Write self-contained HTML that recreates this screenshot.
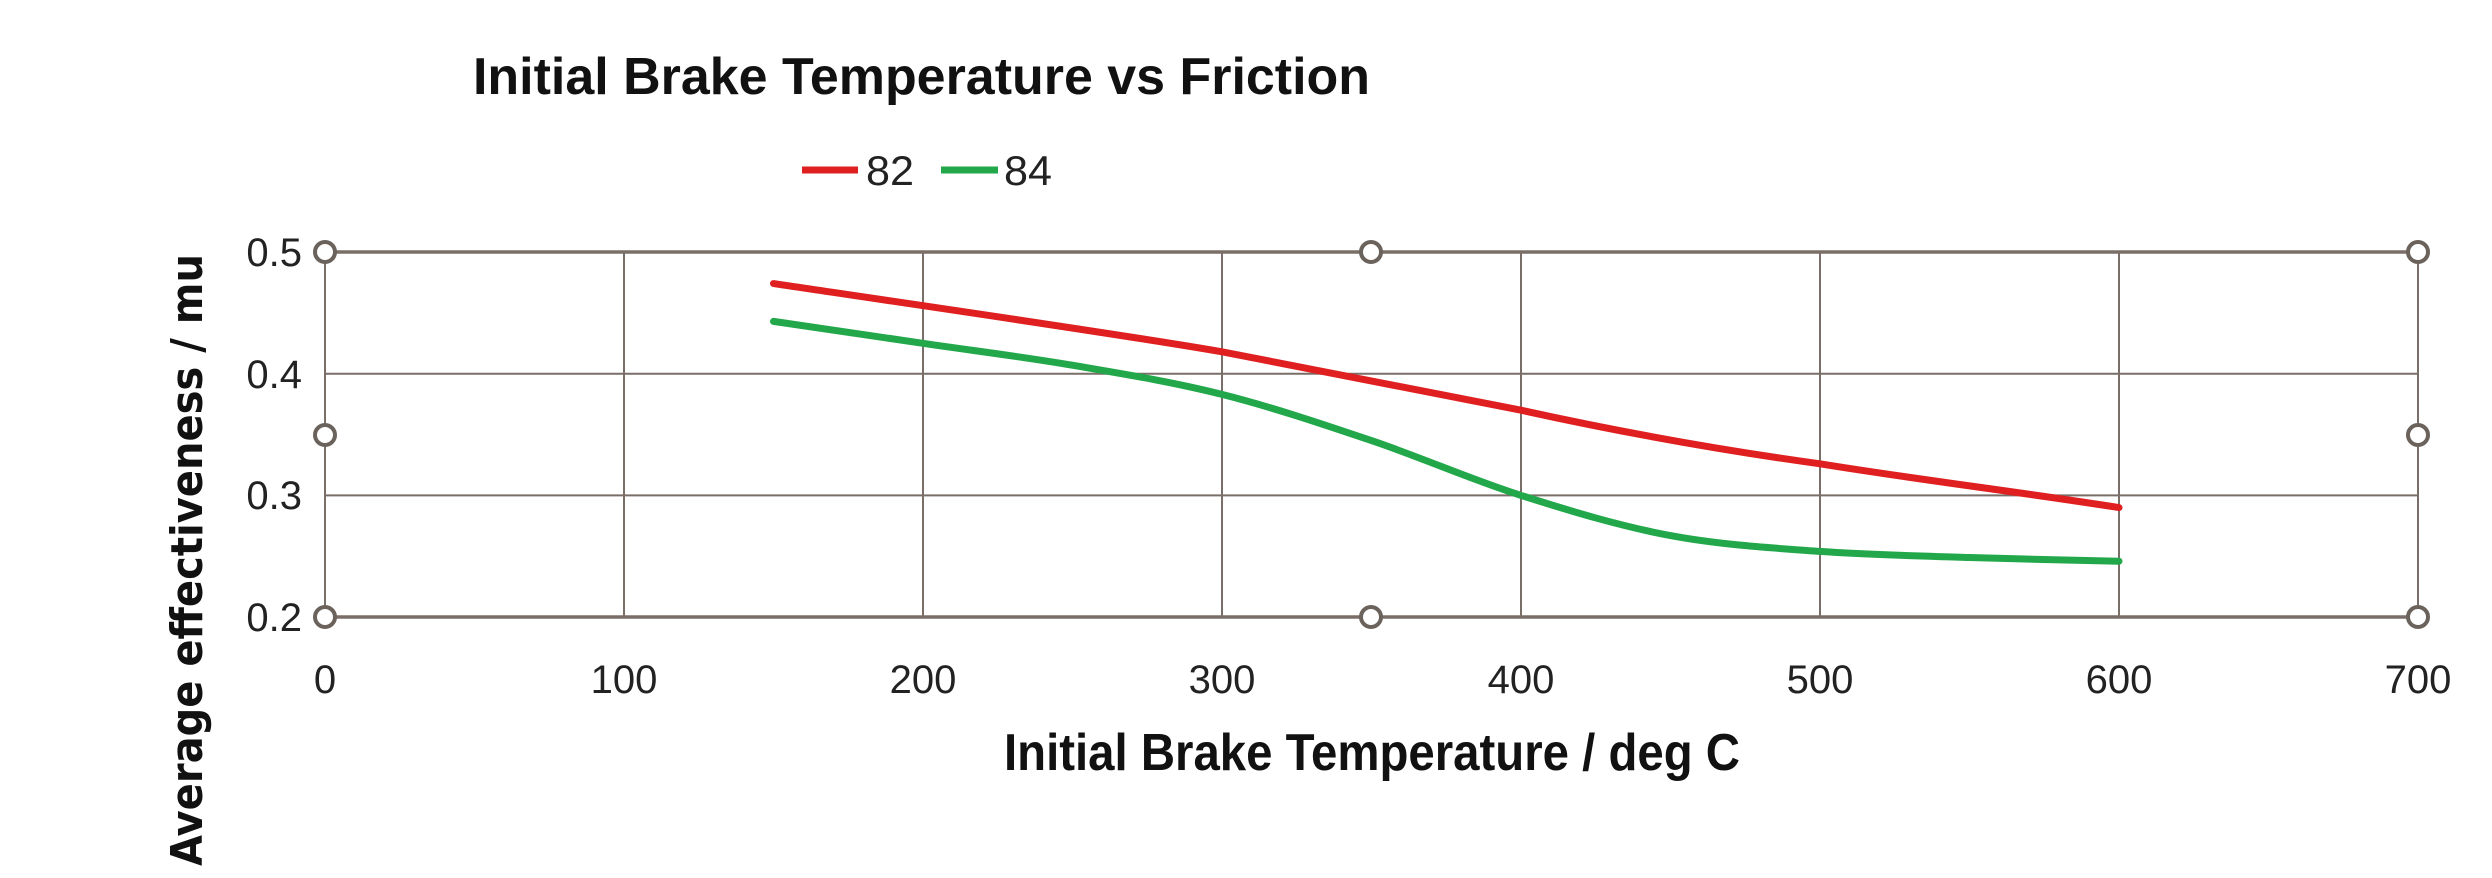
<!DOCTYPE html>
<html><head><meta charset="utf-8"><style>html,body{margin:0;padding:0;background:#fff}svg{display:block}</style></head>
<body>
<svg width="2492" height="878" viewBox="0 0 2492 878" xmlns="http://www.w3.org/2000/svg" font-family="Liberation Sans, sans-serif">
<rect width="2492" height="878" fill="#fff"/>
<text x="473" y="94" font-size="52" font-weight="bold" textLength="897" lengthAdjust="spacingAndGlyphs" fill="#111">Initial Brake Temperature vs Friction</text>
<line x1="802" y1="170" x2="858" y2="170" stroke="#e02020" stroke-width="7"/>
<text x="866" y="185" font-size="42" textLength="48" lengthAdjust="spacingAndGlyphs" fill="#222">82</text>
<line x1="941" y1="170" x2="998" y2="170" stroke="#22a84a" stroke-width="7"/>
<text x="1004" y="185" font-size="42" textLength="48" lengthAdjust="spacingAndGlyphs" fill="#222">84</text>
<g stroke="#7a6e68" stroke-width="2">
<line x1="325" y1="373.7" x2="2418" y2="373.7"/>
<line x1="325" y1="495.4" x2="2418" y2="495.4"/>
<line x1="624" y1="252" x2="624" y2="617"/>
<line x1="923" y1="252" x2="923" y2="617"/>
<line x1="1222" y1="252" x2="1222" y2="617"/>
<line x1="1521" y1="252" x2="1521" y2="617"/>
<line x1="1820" y1="252" x2="1820" y2="617"/>
<line x1="2119" y1="252" x2="2119" y2="617"/>
<line x1="325" y1="252" x2="325" y2="617"/>
<line x1="2418" y1="252" x2="2418" y2="617"/>
</g>
<g stroke="#7a6e68" stroke-width="3.5">
<line x1="325" y1="252" x2="2418" y2="252"/>
<line x1="325" y1="617" x2="2418" y2="617"/>
</g>
<g fill="#fff" stroke="#6b625c" stroke-width="4">
<circle cx="325" cy="252" r="10"/><circle cx="1371" cy="252" r="10"/><circle cx="2418" cy="252" r="10"/>
<circle cx="325" cy="435" r="10"/><circle cx="2418" cy="435" r="10"/>
<circle cx="325" cy="617" r="10"/><circle cx="1371" cy="617" r="10"/><circle cx="2418" cy="617" r="10"/>
</g>
<path fill="none" stroke="#e02020" stroke-width="7" stroke-linecap="round" d="M773.5,283.6 C870,298 1120,334 1222,351.8 C1320,370 1420,390 1521,410.2 C1620,432 1720,450 1820,463.8 C1920,480 2020,492 2119,507.6"/>
<path fill="none" stroke="#22a84a" stroke-width="7" stroke-linecap="round" d="M773.5,321.4 C798.4,325 873,336 922.8,343.3 C972.6,350.6 1022.4,356.7 1072.3,365.2 C1122.2,373.7 1172.1,381.8 1222,394.4 C1271.9,407 1321.7,423.8 1371.5,440.6 C1421.3,457.4 1471.2,479.6 1521,495.4 C1570.8,511.2 1620.7,526.3 1670.5,535.6 C1720.3,544.9 1770.2,547.8 1820,551.4 C1869.8,555 1919.7,555.9 1969.5,557.5 C2019.3,559.1 2094.1,560.6 2119,561.2"/>
<g font-size="40" fill="#222" text-anchor="end">
<text x="302" y="266">0.5</text><text x="302" y="388">0.4</text><text x="302" y="509">0.3</text><text x="302" y="631">0.2</text>
</g>
<g font-size="40" fill="#222" text-anchor="middle">
<text x="325" y="693">0</text><text x="624" y="693">100</text><text x="923" y="693">200</text><text x="1222" y="693">300</text><text x="1521" y="693">400</text><text x="1820" y="693">500</text><text x="2119" y="693">600</text><text x="2418" y="693">700</text>
</g>
<text x="1004" y="770" font-size="52" font-weight="bold" textLength="736" lengthAdjust="spacingAndGlyphs" fill="#111">Initial Brake Temperature / deg C</text>
<text transform="translate(202,866) rotate(-90)" font-size="44" font-weight="bold" textLength="612" lengthAdjust="spacingAndGlyphs" fill="#111" font-family="DejaVu Sans, sans-serif">Average effectiveness / mu</text>
</svg>
</body></html>
